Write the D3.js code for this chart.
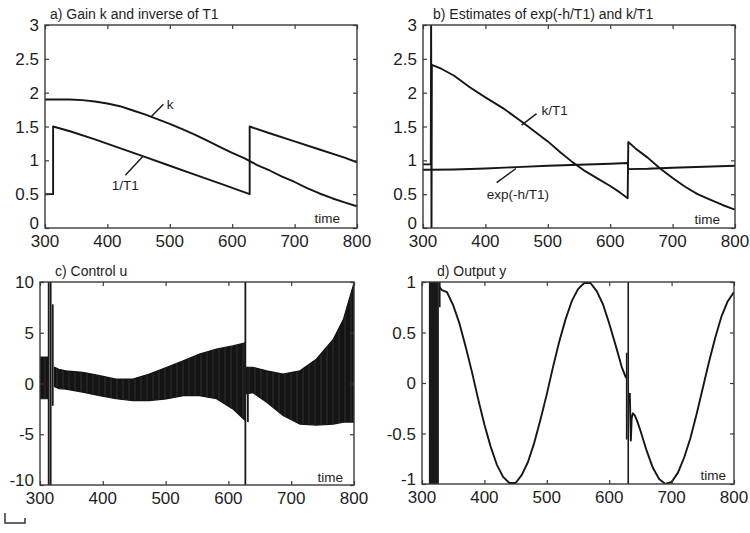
<!DOCTYPE html>
<html><head><meta charset="utf-8">
<script src="https://cdn.jsdelivr.net/npm/d3@7"></script>
<style>
body{margin:0;background:#fff}
svg{display:block}
text{font-family:"Liberation Sans",Arial,Helvetica,sans-serif;fill:#1e1e1e}
</style>
</head><body>
<svg id="chart" width="750" height="533"></svg>
<script>
// ---------------- data ----------------
const timeTicks = [300, 400, 500, 600, 700, 800];
const gainTicks = [0, 0.5, 1, 1.5, 2, 2.5, 3];
const gainTickLabels = ["0", "0.5", "1", "1.5", "2", "2.5", "3"];
const uTicks = [-10, -5, 0, 5, 10];
const uTickLabels = ["-10", "-5", "0", "5", "10"];
const outTicks = [-1, -0.5, 0, 0.5, 1];
const outTickLabels = ["-1", "-0.5", "0", "0.5", "1"];

const titles = ["a) Gain k and inverse of T1", "b) Estimates of exp(-h/T1) and k/T1", "c) Control u", "d) Output y"];
const xLabel = "time";

// a) gain k
const kGain = [[300,1.90],[320,1.90],[340,1.90],[360,1.89],[380,1.87],[400,1.84],[420,1.80],[440,1.74],[460,1.68],[480,1.61],[500,1.54],[520,1.46],[540,1.38],[560,1.29],[580,1.20],[600,1.11],[620,1.03],[640,0.93],[660,0.85],[680,0.76],[700,0.68],[720,0.59],[740,0.51],[760,0.44],[780,0.38],[800,0.32]];
// a) inverse of T1
const invT1 = [[300,0.50],[313,0.50],[313,1.50],[340,1.43],[380,1.31],[420,1.18],[460,1.05],[500,0.92],[540,0.79],[580,0.66],[628,0.50],[628,1.50],[660,1.40],[700,1.28],[740,1.16],[780,1.04],[800,0.97]];
// b) estimate of k/T1
const kOverT1 = [[300,0.94],[312.5,0.94],[313,3.3],[313.6,-0.3],[314.2,2.41],[330,2.35],[350,2.25],[375,2.08],[400,1.93],[430,1.76],[460,1.56],[480,1.42],[500,1.28],[520,1.12],[540,0.97],[560,0.84],[580,0.73],[600,0.62],[615,0.53],[628,0.44],[629,1.27],[640,1.18],[660,1.04],[680,0.88],[700,0.74],[720,0.61],[740,0.50],[760,0.42],[780,0.34],[800,0.27]];
// b) estimate of exp(-h/T1)
const expHT1 = [[300,0.86],[312.5,0.86],[314,0.86],[350,0.865],[400,0.88],[450,0.90],[500,0.92],[550,0.935],[600,0.95],[628,0.96],[629,0.87],[660,0.875],[700,0.89],[750,0.905],[800,0.92]];

// c) control u : envelope [time, low, high] of the fast oscillation
const uBand0 = [[300,-1.5,2.6],[312,-1.5,2.6]];
const uBand1 = [[323,-0.3,1.6],[330,-0.5,1.4],[341,-0.55,1.25],[368,-0.85,1.1],[395,-1.2,0.77],[421,-1.5,0.44],[448,-1.68,0.44],[474,-1.68,0.93],[501,-1.52,1.58],[528,-1.2,2.23],[554,-1.2,2.9],[581,-1.5,3.4],[607,-2.5,3.7],[626,-3.6,4.0]];
const uBand2 = [[629,-1.0,1.6],[639,-0.9,1.6],[661,-1.85,1.25],[687,-3.15,0.93],[714,-4.0,1.25],[740,-4.1,2.4],[767,-4.0,4.35],[783,-3.8,6.3],[800,-3.8,9.9]];
const uSpikes = [[313.8,-10,10],[317,-10,10],[320.3,-2.2,7.8],[627,-10,10],[631,-3.8,1.6]];

// d) output y
const yOut1 = [[328,0.95],[332,0.92],[340,0.90],[350,0.77],[360,0.59],[370,0.36],[380,0.11],[390,-0.16],[400,-0.41],[410,-0.63],[420,-0.81],[430,-0.93],[440,-0.99],[450,-0.99],[460,-0.91],[470,-0.78],[480,-0.59],[490,-0.36],[500,-0.11],[510,0.16],[520,0.41],[530,0.63],[540,0.81],[550,0.93],[560,0.99],[570,0.99],[580,0.91],[590,0.78],[600,0.59],[610,0.38],[620,0.16],[627,0.05]];
const yOut2 = [[633,-0.1],[634.7,-0.57],[636,-0.35],[638,-0.30],[641,-0.32],[645,-0.38],[650,-0.47],[660,-0.67],[670,-0.84],[680,-0.95],[690,-1.0],[700,-0.98],[710,-0.89],[720,-0.74],[730,-0.55],[740,-0.31],[750,-0.05],[760,0.21],[770,0.45],[780,0.66],[790,0.81],[800,0.90]];
const ySpikes = [[312.3,-1,1],[313.8,-1,1],[315.3,-1,1],[316.8,-1,1],[318.3,-1,1],[319.8,-1,1],[321.3,-1,1],[322.8,-1,1],[324.3,-1,1],[325.8,-1,1],[328.5,0.75,1],[628,-0.56,0.3],[630.5,-1,1]];

// annotations: label text, text anchor point (time,value), pointer from/to (time,value)
const notesA = [
  {text:"k", t:495, v:1.76, p:[[469.7,1.64],[489.8,1.83]]},
  {text:"1/T1", t:407, v:0.56, p:[[428.8,0.78],[457,1.06]]}
];
const notesB = [
  {text:"k/T1", t:490, v:1.67, p:[[458,1.52],[482,1.69]]},
  {text:"exp(-h/T1)", t:402, v:0.43, p:[[418,0.67],[449,0.88]]}
];

// ---------------- drawing ----------------
const svg = d3.select("#chart");
const defs = svg.append("defs");
const pat = defs.append("pattern").attr("id","hatch").attr("patternUnits","userSpaceOnUse").attr("width",6).attr("height",40);
pat.append("rect").attr("width",6).attr("height",40).attr("fill","#141414");
pat.append("line").attr("x1",3).attr("x2",3).attr("y1",0).attr("y2",40).attr("stroke","#3c3c3c").attr("stroke-width",0.7);

function makePanel(id, box, yDomain, yTickVals, yTickLabs, title, titleDx, timeRight) {
  const x = d3.scaleLinear().domain([300,800]).range([box.l, box.r]);
  const y = d3.scaleLinear().domain(yDomain).range([box.b, box.t]);
  const g = svg.append("g");
  defs.append("clipPath").attr("id","clip"+id).append("rect")
    .attr("x",box.l).attr("y",box.t).attr("width",box.r-box.l).attr("height",box.b-box.t);
  const plot = g.append("g").attr("clip-path","url(#clip"+id+")");

  // frame
  g.append("rect").attr("x",box.l).attr("y",box.t).attr("width",box.r-box.l).attr("height",box.b-box.t)
    .attr("fill","none").attr("stroke","#3a3a3a").attr("stroke-width",1.4);

  // inward ticks using d3 axes
  const tl = -4;
  const axB = g.append("g").attr("transform",`translate(0,${box.b})`).call(d3.axisBottom(x).tickValues(timeTicks).tickSize(tl).tickFormat(""));
  const axT = g.append("g").attr("transform",`translate(0,${box.t})`).call(d3.axisTop(x).tickValues(timeTicks).tickSize(tl).tickFormat(""));
  const axL = g.append("g").attr("transform",`translate(${box.l},0)`).call(d3.axisLeft(y).tickValues(yTickVals).tickSize(tl).tickFormat(""));
  const axR = g.append("g").attr("transform",`translate(${box.r},0)`).call(d3.axisRight(y).tickValues(yTickVals).tickSize(tl).tickFormat(""));
  [axB,axT,axL,axR].forEach(a => { a.select(".domain").remove(); a.selectAll("line").attr("stroke","#3a3a3a").attr("stroke-width",1.2); });

  // tick labels
  g.selectAll(".xl").data(timeTicks).join("text")
    .attr("x",d=>x(d)).attr("y",box.b+19).attr("text-anchor","middle")
    .attr("font-size",17).text(d=>d);
  g.selectAll(".yl").data(yTickVals).join("text")
    .attr("x",box.l-6).attr("y",(d,i)=>y(d) - (i===0 ? 5 : 0)).attr("dy","0.36em").attr("text-anchor","end")
    .attr("font-size",17).text((d,i)=>yTickLabs[i]);

  // title & x label
  g.append("text").attr("x",box.l+titleDx).attr("y",box.t-6).attr("font-size",14).text(title);
  g.append("text").attr("x",box.r-timeRight[0]).attr("y",box.b-timeRight[1]).attr("text-anchor","end")
    .attr("font-size",13.5).text(xLabel);

  return {x, y, g, plot};
}

function drawLine(p, data) {
  const line = d3.line().x(d=>p.x(d[0])).y(d=>p.y(d[1]));
  p.plot.append("path").datum(data).attr("d",line).attr("fill","none")
    .attr("stroke","#161616").attr("stroke-width",1.9).attr("stroke-linejoin","round");
}
function drawNotes(p, notes) {
  notes.forEach(n => {
    p.g.append("line").attr("x1",p.x(n.p[0][0])).attr("y1",p.y(n.p[0][1]))
      .attr("x2",p.x(n.p[1][0])).attr("y2",p.y(n.p[1][1]))
      .attr("stroke","#1a1a1a").attr("stroke-width",1.4);
    p.g.append("text").attr("x",p.x(n.t)).attr("y",p.y(n.v)).attr("font-size",13.5).text(n.text);
  });
}
function drawBand(p, data) {
  const area = d3.area().x(d=>p.x(d[0])).y0(d=>p.y(d[1])).y1(d=>p.y(d[2]));
  p.plot.append("path").datum(data).attr("d",area).attr("fill","url(#hatch)")
    .attr("stroke","#141414").attr("stroke-width",1.2);
}
function drawSpikes(p, data, w) {
  p.plot.selectAll(null).data(data).join("line")
    .attr("x1",d=>p.x(d[0])).attr("x2",d=>p.x(d[0]))
    .attr("y1",d=>p.y(d[1])).attr("y2",d=>p.y(d[2]))
    .attr("stroke","#1a1a1a").attr("stroke-width",w);
}

const pA = makePanel("a", {l:45,r:357,t:25,b:228}, [0,3], gainTicks, gainTickLabels, titles[0], 5, [17,5]);
drawLine(pA, kGain);
drawLine(pA, invT1);
drawNotes(pA, notesA);

const pB = makePanel("b", {l:423,r:735,t:25,b:228}, [0,3], gainTicks, gainTickLabels, titles[1], 10, [15,4]);
drawLine(pB, expHT1);
drawLine(pB, kOverT1);
drawNotes(pB, notesB);

const pC = makePanel("c", {l:40,r:354,t:282,b:485}, [-10,10], uTicks, uTickLabels, titles[2], 15, [11,3]);
drawBand(pC, uBand0);
drawBand(pC, uBand1);
drawBand(pC, uBand2);
drawSpikes(pC, uSpikes, 1.8);

const pD = makePanel("d", {l:422,r:734,t:282,b:484}, [-1,1], outTicks, outTickLabels, titles[3], 15, [8,4]);
drawSpikes(pD, ySpikes, 1.6);
drawLine(pD, yOut1);
drawLine(pD, yOut2);

// small bracket mark at bottom-left corner
svg.append("path").attr("d","M5,513V523H25V518").attr("fill","none").attr("stroke","#333").attr("stroke-width",1.5);
</script>
</body></html>
